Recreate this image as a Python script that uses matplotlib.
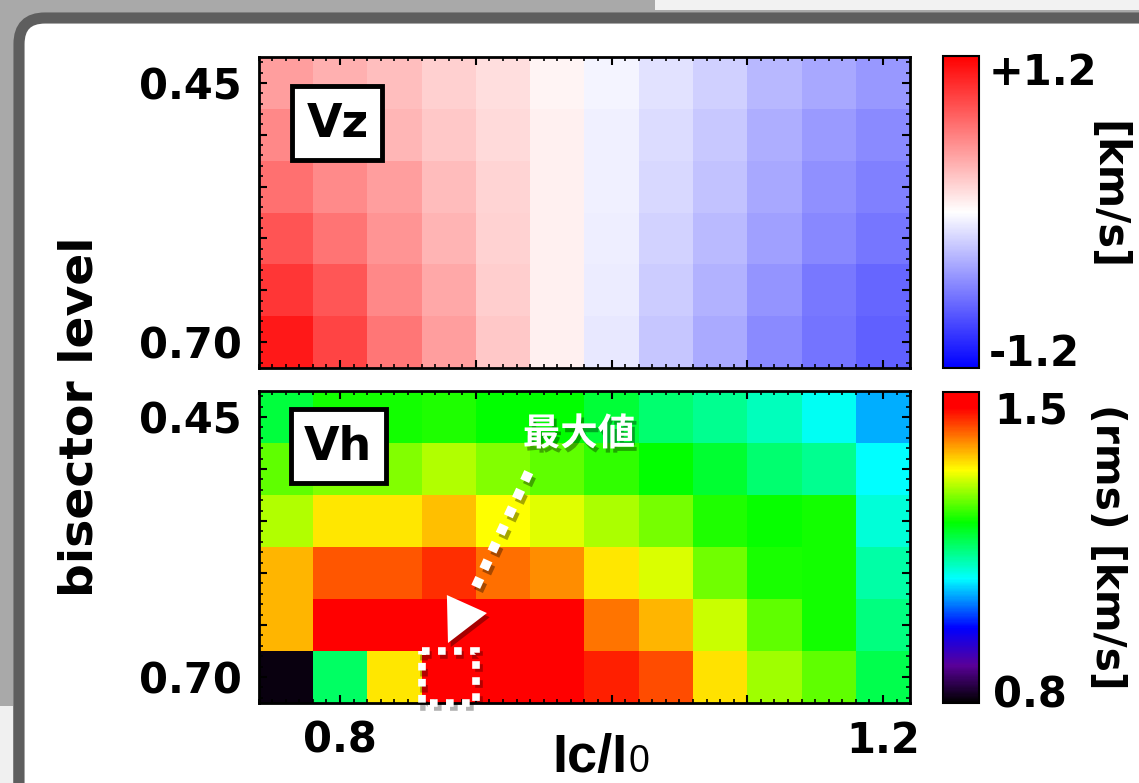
import numpy as np
import matplotlib
matplotlib.use('Agg')
import matplotlib.pyplot as plt
import matplotlib.patheffects as pe
from matplotlib.colors import LinearSegmentedColormap
from matplotlib.patches import FancyBboxPatch, Rectangle, Polygon
from matplotlib.ticker import MultipleLocator

# Ic/I0 bins (x) and bisector levels (y)
ic_bins = [0.76, 0.80, 0.84, 0.88, 0.92, 0.96, 1.00, 1.04, 1.08, 1.12, 1.16, 1.20]
bisector_levels = [0.45, 0.50, 0.55, 0.60, 0.65, 0.70]
x_ticks = [0.8, 0.9, 1.0, 1.1, 1.2]
x_ticklabels = ['0.8', '', '', '', '1.2']

# vertical velocity Vz [km/s], one row per bisector level
vz = [
    [0.45, 0.37, 0.30, 0.22, 0.15, 0.05, -0.05, -0.14, -0.22, -0.33, -0.41, -0.48],
    [0.56, 0.39, 0.34, 0.26, 0.17, 0.07, -0.07, -0.16, -0.26, -0.38, -0.47, -0.55],
    [0.67, 0.55, 0.45, 0.31, 0.20, 0.07, -0.07, -0.18, -0.29, -0.41, -0.52, -0.60],
    [0.80, 0.65, 0.50, 0.35, 0.21, 0.07, -0.08, -0.21, -0.32, -0.45, -0.56, -0.64],
    [0.94, 0.79, 0.56, 0.41, 0.23, 0.07, -0.09, -0.24, -0.36, -0.50, -0.63, -0.72],
    [1.08, 0.88, 0.64, 0.45, 0.26, 0.07, -0.11, -0.27, -0.40, -0.55, -0.65, -0.75],
]

# horizontal velocity Vh (rms) [km/s]
vh = [
    [1.175, 1.213, 1.213, 1.220, 1.206, 1.206, 1.180, 1.152, 1.135, 1.112, 1.087, 1.045],
    [1.250, 1.266, 1.266, 1.288, 1.266, 1.250, 1.228, 1.206, 1.182, 1.152, 1.135, 1.080],
    [1.288, 1.338, 1.338, 1.360, 1.325, 1.311, 1.284, 1.262, 1.220, 1.210, 1.213, 1.100],
    [1.364, 1.417, 1.417, 1.438, 1.403, 1.387, 1.338, 1.307, 1.258, 1.217, 1.213, 1.123],
    [1.364, 1.470, 1.480, 1.490, 1.480, 1.470, 1.399, 1.364, 1.300, 1.249, 1.213, 1.143],
    [0.810, 1.158, 1.338, 1.500, 1.480, 1.470, 1.448, 1.422, 1.340, 1.280, 1.249, 1.167],
]

vz_range = (-1.2, 1.2)
vh_range = (0.8, 1.5)

W, H = 1139, 783
plt.rcParams['font.family'] = ['DejaVu Sans']
plt.rcParams['font.weight'] = 'bold'

# IDL-like rainbow with black at the bottom
rainbow = LinearSegmentedColormap.from_list('idl_rainbow', [
    (0.00, (0.0, 0.0, 0.0)),
    (0.12, (0.35, 0.0, 0.6)),
    (0.24, (0.0, 0.0, 1.0)),
    (0.40, (0.0, 1.0, 1.0)),
    (0.58, (0.0, 1.0, 0.0)),
    (0.75, (1.0, 1.0, 0.0)),
    (0.85, (1.0, 0.5, 0.0)),
    (0.95, (1.0, 0.0, 0.0)),
    (1.00, (1.0, 0.0, 0.0)),
])

fig = plt.figure(figsize=(W / 100, H / 100), dpi=100, facecolor='#a9a9a9')


def px_axes(x0, y0, x1, y1):
    # pixel box (top-left origin) -> figure axes
    return fig.add_axes([x0 / W, 1 - y1 / H, (x1 - x0) / W, (y1 - y0) / H])


# background slide with rounded white panel
bg = fig.add_axes([0, 0, 1, 1], zorder=-10)
bg.set_xlim(0, W)
bg.set_ylim(H, 0)
bg.axis('off')
bg.add_patch(Rectangle((655, 0), 500, 10, fc='#f2f2f2', ec='none'))
bg.add_patch(Rectangle((0, 706), 13, 80, fc='#f0f0f0', ec='none'))
bg.add_patch(FancyBboxPatch((19, 18), 1300, 900, boxstyle='round,pad=0,rounding_size=26',
                            fc='white', ec='#5e5e5e', lw=8))

ax1 = px_axes(258.6, 57, 910.2, 368)
ax2 = px_axes(258.6, 391, 910.2, 703)

m1 = ax1.pcolormesh(ic_bins, bisector_levels, np.array(vz), cmap='bwr',
                    vmin=vz_range[0], vmax=vz_range[1], shading='nearest')
m2 = ax2.pcolormesh(ic_bins, bisector_levels, np.array(vh), cmap=rainbow,
                    vmin=vh_range[0], vmax=vh_range[1], shading='nearest')

for ax in (ax1, ax2):
    ax.invert_yaxis()
    ax.set_xticks(x_ticks)
    ax.set_yticks(bisector_levels)
    ax.set_yticklabels(['%.2f' % bisector_levels[0]] + [''] * (len(bisector_levels) - 2)
                       + ['%.2f' % bisector_levels[-1]])
    ax.xaxis.set_minor_locator(MultipleLocator(0.01))
    ax.yaxis.set_minor_locator(MultipleLocator(0.01))
    ax.tick_params(which='both', direction='in', top=True, right=True, labelsize=30)
    ax.tick_params(which='major', length=6, width=1.5, pad=12)
    ax.tick_params(which='minor', length=3, width=1.2)
    for s in ax.spines.values():
        s.set_linewidth(2)

ax1.set_xticklabels([])
ax2.set_xticklabels(x_ticklabels)

# panel tags
for ax, tag, box in ((ax1, 'Vz', (0.052, 0.670, 0.138, 0.238)),
                     (ax2, 'Vh', (0.049, 0.704, 0.146, 0.237))):
    ax.add_patch(Rectangle(box[:2], box[2], box[3], transform=ax.transAxes,
                           fc='white', ec='black', lw=3.5, zorder=5))
    ax.text(box[0] + box[2] / 2, box[1] + box[3] / 2 - 0.005, tag, transform=ax.transAxes,
            ha='center', va='center', fontsize=33, zorder=6)

# colorbars
cax1 = px_axes(943, 56, 979, 368)
cax2 = px_axes(943, 392, 979, 703)
for cax, m in ((cax1, m1), (cax2, m2)):
    cb = fig.colorbar(m, cax=cax)
    cb.set_ticks([])
    cb.outline.set_linewidth(1.5)

tk = dict(fontsize=30, va='center', ha='left')
bg.text(989, 73, '+%.1f' % vz_range[1], **tk)
bg.text(989, 354, '%.1f' % vz_range[0], **tk)
bg.text(994, 411, '%.1f' % vh_range[1], **tk)
bg.text(993, 696, '%.1f' % vh_range[0], **tk)
bg.text(1107, 196, '[km/s]', rotation=-90, fontsize=30, ha='center', va='center')
bg.text(1107, 547, '(rms) [km/s]', rotation=-90, fontsize=29.5, ha='center', va='center')

# axis titles
bg.text(80, 417, 'bisector level', rotation=90, fontsize=34, ha='center', va='center')
bg.text(628, 772, 'Ic/I', fontsize=39, ha='right', va='baseline',
        family=['Liberation Sans Narrow', 'Liberation Sans'])
bg.text(629, 772, '0', fontsize=27, ha='left', va='baseline',
        family=['Liberation Sans Narrow', 'Liberation Sans'], weight='normal')

# maximum marker
vh_arr = np.array(vh)
iy, ix = np.unravel_index(np.argmax(vh_arr), vh_arr.shape)
dx = (ic_bins[1] - ic_bins[0]) / 2
dy = (bisector_levels[1] - bisector_levels[0]) / 2
shadow = [pe.SimplePatchShadow(offset=(2, -3), shadow_rgbFace='k', alpha=0.35), pe.Normal()]
ax2.add_patch(Rectangle((ic_bins[ix] - dx, bisector_levels[iy] - dy), 2 * dx, 2 * dy,
                        fill=False, ec='white', lw=5.5, ls=(0, (1, 1.1)), clip_on=False,
                        zorder=7, path_effects=[pe.SimpleLineShadow(offset=(2, -3), alpha=0.3),
                                                pe.Normal()]))
ax2.plot([0.939, 0.899], [0.503, 0.616], color='white', lw=7, ls=(0, (1, 1)),
         dash_capstyle='butt', zorder=7, clip_on=False,
         path_effects=[pe.SimpleLineShadow(offset=(2, -3), alpha=0.35), pe.Normal()])
ax2.add_patch(Polygon([(0.8787, 0.6212), (0.9082, 0.6385), (0.8795, 0.6673)],
                      fc='white', ec='none', zorder=7, path_effects=shadow))
ax2.text(0.976, 0.466, '最大値', family=['Noto Sans CJK JP', 'DejaVu Sans'], weight='bold',
         fontsize=27, color='white', ha='center', va='center', zorder=8, path_effects=shadow)

fig.savefig('out.png', dpi=100, facecolor=fig.get_facecolor())
